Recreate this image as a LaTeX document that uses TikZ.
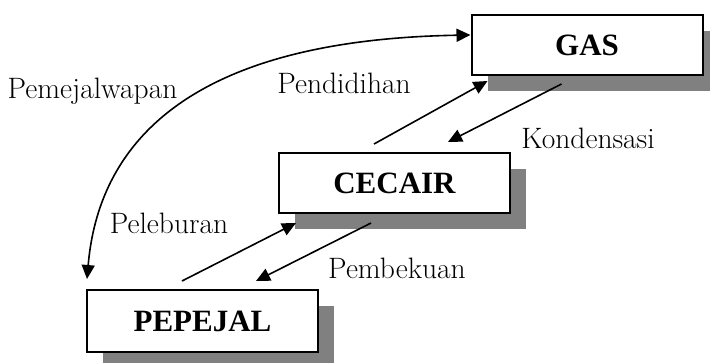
\documentclass[tikz,border=0pt]{standalone}
\usepackage{fontspec}
\newfontfamily\boxfont{Liberation Serif}
\usetikzlibrary{arrows.meta,shadows}
\tikzset{
  statebox/.style={draw=black, line width=2pt, fill=white, inner sep=0pt,
    minimum width=231pt, minimum height=60pt,
    font=\boxfont\bfseries\fontsize{31}{34}\selectfont,
    drop shadow={shadow xshift=16pt, shadow yshift=-16pt, fill=black!50, opacity=1}},
  proclabel/.style={anchor=base, inner sep=0pt, font=\fontsize{29.5}{32}\selectfont},
  tip/.tip={Triangle[length=14pt,width=13pt]},
  conn/.style={line width=1.6pt, -tip},
}
\begin{document}
\begin{tikzpicture}[x=1pt,y=-1pt]
\useasboundingbox (0,0) rectangle (710,362);
\node[statebox] (gas) at (587,45) {GAS};
\node[statebox] (cecair) at (394.5,183) {CECAIR};
\node[statebox, minimum height=62pt] (pepejal) at (202.5,321) {PEPEJAL};

\node[proclabel] (lpem) at (92.5,98) {Pemejalwapan};
\node[proclabel] (lpend) at (344,93) {Pendidihan};
\node[proclabel] (lkond) at (588,148) {Kondensasi};
\node[proclabel] (lpel) at (169,233) {Peleburan};
\node[proclabel] (lpemb) at (397,278) {Pembekuan};

\draw[conn] ([shift={(96,-8)}]cecair.north west) -- ([shift={(17,5)}]gas.south west);
\draw[conn] ([shift={(91,8)}]gas.south west) -- ([shift={(170,-10)}]cecair.north west);
\draw[conn] ([shift={(96,-8)}]pepejal.north west) -- ([shift={(18,9)}]cecair.south west);
\draw[conn] ([shift={(93,9)}]cecair.south west) -- ([shift={(170,-8)}]pepejal.north west);
\draw[line width=1.6pt, tip-tip]
  ([shift={(1,-10)}]pepejal.north west) .. controls (98,150) and (180,40) .. ([shift={(0,21)}]gas.north west);
\end{tikzpicture}
\end{document}
